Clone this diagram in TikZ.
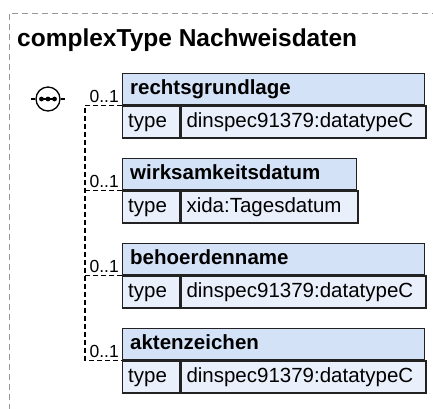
\documentclass[tikz,border=0pt]{standalone}
\usepackage{fontspec}
\setmainfont{Liberation Sans}
\usetikzlibrary{calc}
\definecolor{hdrfill}{HTML}{D4E2F7}
\definecolor{rowfill}{HTML}{EAF0FB}
\definecolor{framegray}{HTML}{999999}
\definecolor{edge}{HTML}{222222}
\begin{document}
\begin{tikzpicture}[x=1pt,y=-1pt,
  cell/.style={draw=edge, line width=1.3pt, inner sep=0pt, anchor=north west},
  boxtxt/.style={inner sep=0pt, anchor=base west, font=\fontsize{20.5}{24}\selectfont},
  multtxt/.style={inner sep=0pt, anchor=base east, font=\fontsize{17.5}{20}\selectfont},
  conn/.style={draw=black, line width=1.2pt, dash pattern=on 5pt off 3pt},
  outerframe/.style={draw=framegray, line width=1pt, dash pattern=on 6pt off 4pt}]
\useasboundingbox (0,0) rectangle (433,408);
\draw[outerframe] (9,420) -- (9,13) -- (445,13);
\node[inner sep=0pt, anchor=base west, font=\bfseries\fontsize{24.5}{29}\selectfont] (title) at (17,46) {complexType Nachweisdaten};

\newcommand\elbox[5]{%
  \node[cell, fill=hdrfill, minimum width={#3-122}, minimum height=31pt] (#1h) at (122,#2) {};
  \node[cell, fill=rowfill, minimum width=57pt, minimum height=32pt] (#1t) at (#1h.south west) {};
  \node[cell, fill=rowfill, minimum width={#3-179}, minimum height=32pt] (#1v) at (#1t.north east) {};
  \node[boxtxt, font=\bfseries\fontsize{20.5}{24}\selectfont] (#1hl) at ($(#1h.south west)+(8,-11)$) {#4};
  \node[boxtxt] (#1tl) at ($(#1t.south west)+(6,-11)$) {type};
  \node[boxtxt] (#1vl) at ($(#1v.south west)+(6,-11)$) {#5};
}
\elbox{a}{73}{424}{rechtsgrundlage}{dinspec91379:datatypeC}
\elbox{b}{158}{356}{wirksamkeitsdatum}{xida:Tagesdatum}
\elbox{c}{243}{424}{behoerdenname}{dinspec91379:datatypeC}
\elbox{d}{328}{424}{aktenzeichen}{dinspec91379:datatypeC}

% sequence compositor
\node[circle, draw=black, line width=1.3pt, minimum size=24pt, inner sep=0pt] (seq) at (48,99) {};
\draw[line width=1.2pt] ($(seq.center)+(-6.5,0)$) -- ($(seq.center)+(6.5,0)$);
\fill ($(seq.center)+(-6.5,0)$) circle (2.4pt) (seq.center) circle (2.4pt) ($(seq.center)+(6.5,0)$) circle (2.4pt);
\coordinate (seqL) at ($(seq.west)+(-4,0)$);
\coordinate (seqR) at ($(seq.east)+(4,0)$);
\draw[line width=1.2pt] (seq.west) -- (seqL);
\draw[line width=1.2pt] (seq.east) -- (seqR);

% bracket
\coordinate (bx) at (85,0);
\draw[conn] (ah.south west) -- (bx |- ah.south west) -- (bx |- dh.south west) -- (dh.south west);
\draw[conn] (bx |- bh.south west) -- (bh.south west);
\draw[conn] (bx |- ch.south west) -- (ch.south west);

\foreach \n in {a,b,c,d}{
  \node[multtxt] (m\n) at ($(\n h.south west)+(-3,-3)$) {0..1};
}
\end{tikzpicture}
\end{document}
